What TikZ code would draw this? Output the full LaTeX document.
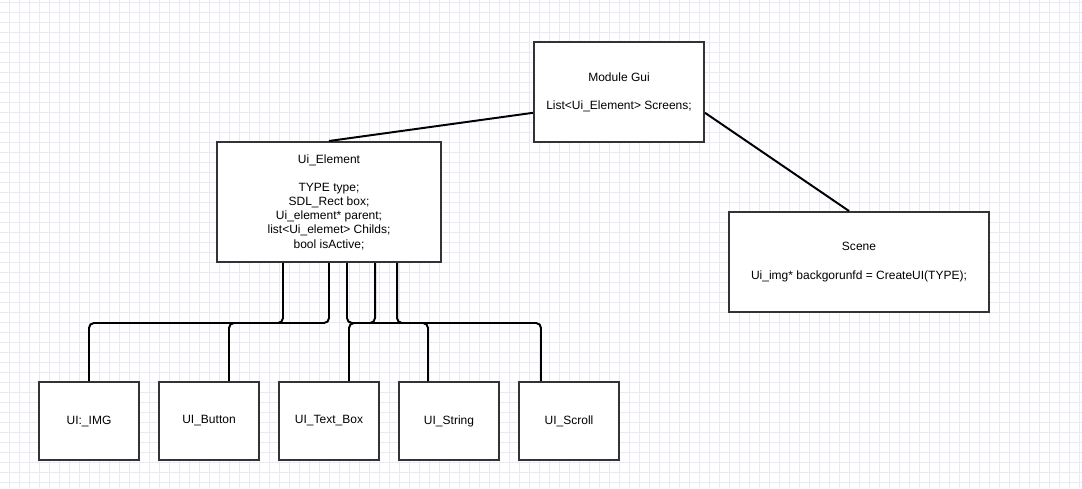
\documentclass[tikz,border=0pt]{standalone}
\usepackage{fontspec}
\setmainfont{Liberation Sans}
\definecolor{gridcol}{RGB}{232,232,247}
\definecolor{edgecol}{RGB}{51,51,51}
\begin{document}
\begin{tikzpicture}[x=0.025cm,y=-0.025cm,
  every node/.style={font=\fontsize{8.54}{10.1}\selectfont},
  box/.style={draw=edgecol,line width=1.4pt,fill=white,align=center,inner sep=0pt},
  leaf/.style={box,minimum width=2.5cm,minimum height=1.95cm},
  link/.style={line width=1.4pt,rounded corners=3.5pt},
  gridline/.style={gridcol,line width=0.6pt}]
  \path[use as bounding box,fill=white] (0,0) rectangle (1082,488);
  % background grid
  \foreach \gx in {9.5,19.5,...,1079.5} \draw[gridline] (\gx,0) -- (\gx,488);
  \foreach \gy in {2.5,12.5,...,482.5} \draw[gridline] (0,\gy) -- (1082,\gy);
  % classes
  \node[box,minimum width=4.25cm,minimum height=2.5cm] (gui) at (619,92) {Module Gui\\[10pt]List<Ui\_Element> Screens;};
  \node[box,minimum width=5.6cm,minimum height=3cm] (elem) at (329,202) {Ui\_Element\\[10pt]TYPE type;\\SDL\_Rect box;\\Ui\_element* parent;\\list<Ui\_elemet> Childs;\\bool isActive;};
  \node[box,minimum width=6.5cm,minimum height=2.5cm] (scene) at (859,262) {Scene\\[10pt]Ui\_img* backgorunfd = CreateUI(TYPE);};
  \node[leaf] (img) at (89,421) {UI:\_IMG};
  \node[leaf] (button) at (209,421) {UI\_Button};
  \node[leaf] (textbox) at (329,421) {UI\_Text\_Box};
  \node[leaf] (string) at (449,421) {UI\_String};
  \node[leaf] (scroll) at (569,421) {UI\_Scroll};
  % links
  \draw[link] (elem.north) -- ([yshift=-0.52cm]gui.west);
  \draw[link] ([yshift=-0.52cm]gui.east) -- ([xshift=-0.25cm]scene.north);
  \draw[link] ([xshift=-1.15cm]elem.south) -- ++(0,60) -| (img.north);
  \draw[link] (elem.south) -- ++(0,60) -| ([xshift=0.5cm]button.north);
  \draw[link] ([xshift=1.15cm]elem.south) -- ++(0,60) -| ([xshift=0.5cm]textbox.north);
  \draw[link] ([xshift=0.45cm]elem.south) -- ++(0,60) -| ([xshift=-0.525cm]string.north);
  \draw[link] ([xshift=1.7cm]elem.south) -- ++(0,60) -| ([xshift=-0.7cm]scroll.north);
\end{tikzpicture}
\end{document}
